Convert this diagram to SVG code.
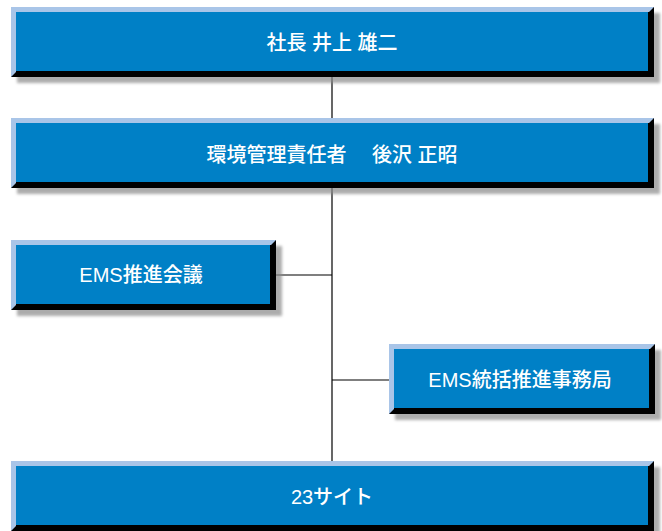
<svg xmlns="http://www.w3.org/2000/svg" width="662" height="531" viewBox="0 0 662 531">
<style>
.sh{fill:#8a8a8a;filter:url(#blur);opacity:0.7}
.dk{fill:#000}
.lt{fill:#a9c5e8}
.in{fill:#0080c6}
.t{fill:#fff;font-family:"Liberation Sans","Noto Sans CJK JP",sans-serif;font-size:20px;font-weight:500;text-anchor:middle;dominant-baseline:central}
.c{stroke:#000;stroke-width:1.2;fill:none}
</style>
<defs>
<filter id="blur" x="-5%" y="-20%" width="110%" height="140%"><feGaussianBlur stdDeviation="1.8"/></filter>
</defs>
<g id="connectors">
<line class="c" x1="332" y1="77" x2="332" y2="118"/>
<line class="c" x1="332" y1="188" x2="332" y2="462"/>
<line class="c" x1="276" y1="275" x2="332" y2="275"/>
<line class="c" x1="332" y1="380" x2="389" y2="380"/>
</g>
<g id="president">
<rect class="sh" x="17" y="13" width="643" height="70"/>
<rect class="dk" x="11" y="7" width="643" height="70"/>
<polygon class="lt" points="11,7 654,7 649,12 16,12 16,72 11,77"/>
<rect class="in" x="16" y="12" width="632" height="59"/>
<text class="t" x="332" y="43">社長  井上 雄二</text>
</g>
<g id="manager">
<rect class="sh" x="17" y="124" width="643" height="70"/>
<rect class="dk" x="11" y="118" width="643" height="70"/>
<polygon class="lt" points="11,118 654,118 649,123 16,123 16,183 11,188"/>
<rect class="in" x="16" y="123" width="632" height="59"/>
<text class="t" x="332" y="155">環境管理責任者　 後沢 正昭</text>
</g>
<g id="ems-council">
<rect class="sh" x="17" y="246" width="265" height="70"/>
<rect class="dk" x="11" y="240" width="265" height="70"/>
<polygon class="lt" points="11,240 276,240 271,245 16,245 16,305 11,310"/>
<rect class="in" x="16" y="245" width="254" height="59"/>
<text class="t" x="141" y="275">EMS推進会議</text>
</g>
<g id="ems-office">
<rect class="sh" x="395" y="350" width="266" height="70"/>
<rect class="dk" x="389" y="344" width="266" height="70"/>
<polygon class="lt" points="389,344 655,344 650,349 394,349 394,409 389,414"/>
<rect class="in" x="394" y="349" width="255" height="59"/>
<text class="t" x="520" y="380">EMS統括推進事務局</text>
</g>
<g id="sites">
<rect class="sh" x="17" y="467" width="643" height="70"/>
<rect class="dk" x="11" y="461" width="643" height="70"/>
<polygon class="lt" points="11,461 654,461 649,466 16,466 16,526 11,531"/>
<rect class="in" x="16" y="466" width="632" height="59"/>
<text class="t" x="332" y="497">23サイト</text>
</g>
</svg>
